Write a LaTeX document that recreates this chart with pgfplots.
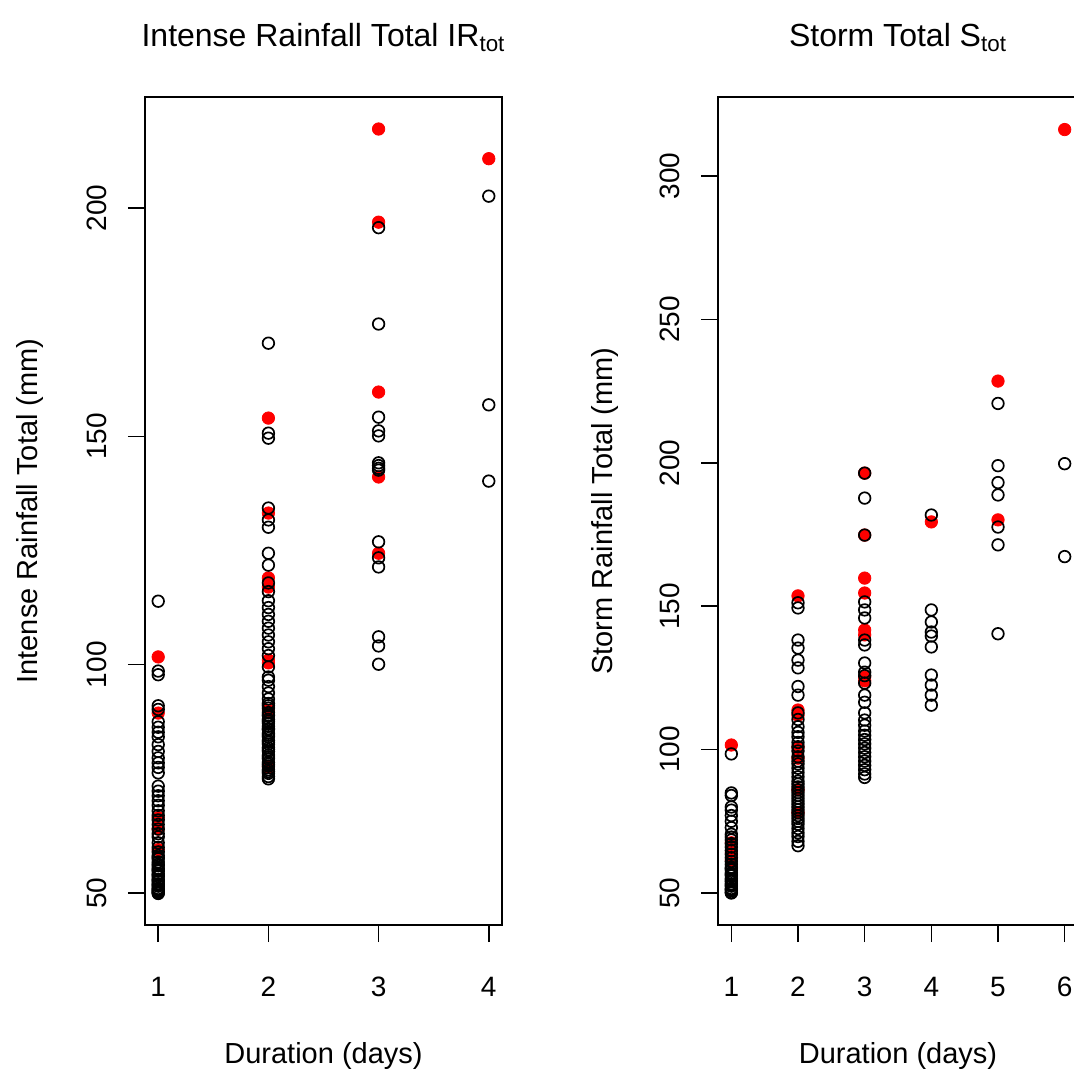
\documentclass[border=0pt]{standalone}
\usepackage{fontspec}
\setmainfont{Liberation Sans}
\usepackage{pgfplots}
\pgfplotsset{compat=1.18}
\definecolor{rred}{rgb}{1,0,0}
\pgfplotsset{rstyle/.style={
  scale only axis,
  axis line style={line width=0.75pt},
  tick align=outside, major tick length=8.5pt,
  every tick/.style={line width=0.75pt, black},
  xtick pos=bottom, ytick pos=left,
  /pgf/number format/assume math mode=true,
  scaled ticks=false,
  tick label style={font=\fontsize{14}{16}\selectfont, inner sep=0pt},
  xticklabel style={anchor=base, yshift=-27pt},
  yticklabel style={xshift=-11pt, rotate=90, anchor=base},
  label style={font=\fontsize{14.5}{17}\selectfont},
  title style={font=\fontsize{16}{19}\selectfont, anchor=base, inner sep=0pt},
  xlabel style={at={(axis description cs:0.5,-0.1667)}, anchor=base, inner sep=0pt},
  ylabel style={anchor=base, inner sep=0pt},
  openpt/.style={only marks, mark=o, mark size=2.9pt, mark options={line width=0.85pt, draw=black}},
  redpt/.style={only marks, mark=*, mark size=3.1pt, mark options={fill=rred, draw=rred}},
}}
\begin{document}
\begin{tikzpicture}
\begin{axis}[rstyle,
  at={(72.5pt,-462.5pt)}, anchor=south west,
  width=178.5pt, height=414pt,
  xmin=0.88, xmax=4.12, ymin=42.99, ymax=224.31,
  xtick={1,2,3,4}, ytick={50,100,150,200},
  title={Intense Rainfall Total IR\textsubscript{tot}},
  title style={at={(axis description cs:0.5,1.047)}},
  xlabel={Duration (days)},
  ylabel={Intense Rainfall Total (mm)},
  ylabel style={at={(axis description cs:-0.3025,0.5)}},
]
\addplot[redpt] coordinates {
(1,101.7) (1,89.4) (1,66.5) (1,64.0) (1,59.5)
(2,154.0) (2,133.2) (2,119.0) (2,117.0) (2,101.0) (2,100.4) (2,77.6) (2,90.0)
(3,217.3) (3,196.9) (3,159.7) (3,141.1) (3,124.4)
(4,210.8)
};
\addplot[openpt] coordinates {
(1,113.9) (1,98.6) (1,97.8) (1,91.0) (1,90.2) (1,87.5) (1,86.3) (1,85.2) (1,84.2) (1,82.5)
(1,81.0) (1,79.6) (1,78.5) (1,77.5) (1,76.3) (1,73.4) (1,72.3) (1,71.3) (1,70.2) (1,69.2)
(1,68.0) (1,67.0) (1,66.0) (1,65.0) (1,64.0) (1,63.0) (1,62.3) (1,61.0) (1,60.0) (1,59.0)
(1,58.2) (1,57.5) (1,56.8) (1,56.0) (1,55.4) (1,54.8) (1,54.2) (1,53.6) (1,53.0) (1,52.5)
(1,52.0) (1,51.5) (1,51.0) (1,50.6) (1,50.2) (1,49.9)
(1,57.8) (1,56.3) (1,55.1) (1,53.9) (1,52.8) (1,51.8) (1,50.9) (1,50.4) (1,50.0)
(2,170.4) (2,150.7) (2,149.6) (2,134.3) (2,131.7) (2,130.1) (2,124.4) (2,121.8) (2,117.9) (2,116.0)
(2,114.0) (2,112.5) (2,111.0) (2,109.5) (2,108.0) (2,106.5) (2,105.0) (2,103.5) (2,102.0) (2,99.5)
(2,97.3) (2,96.6) (2,95.2) (2,93.8) (2,92.5) (2,91.5) (2,90.5) (2,89.5) (2,88.8) (2,88.0)
(2,87.2) (2,86.5) (2,85.8) (2,85.0) (2,84.2) (2,83.4) (2,82.6) (2,81.8) (2,81.0) (2,80.2)
(2,79.4) (2,78.6) (2,77.8) (2,77.0) (2,76.2) (2,75.5) (2,75.0)
(2,91.0) (2,89.0) (2,87.6) (2,86.0) (2,84.6) (2,83.0) (2,81.4) (2,79.8) (2,78.2) (2,76.6)
(3,195.7) (3,174.6) (3,154.2) (3,151.2) (3,150.1) (3,144.2) (3,143.6) (3,143.0) (3,142.6) (3,126.9)
(3,123.4) (3,121.4) (3,106.1) (3,104.1) (3,100.1)
(4,202.6) (4,156.9) (4,140.2)
};
\end{axis}
\begin{axis}[rstyle,
  at={(359pt,-462.5pt)}, anchor=south west,
  width=180pt, height=414pt,
  xmin=0.8, xmax=6.2, ymin=38.84, ymax=327.55,
  xtick={1,2,3,4,5,6}, ytick={50,100,150,200,250,300},
  title={Storm Total S\textsubscript{tot}},
  title style={at={(axis description cs:0.5,1.047)}},
  xlabel={Duration (days)},
  ylabel={Storm Rainfall Total (mm)},
  ylabel style={at={(axis description cs:-0.294,0.5)}},
]
\addplot[redpt] coordinates {
(1,101.6) (1,67.5) (1,64.0) (1,61.5)
(2,153.6) (2,113.8) (2,112.0) (2,100.9) (2,97.0) (2,86.0) (2,78.0)
(3,196.4) (3,174.8) (3,159.8) (3,154.6) (3,141.7) (3,140.0) (3,125.3) (3,124.0)
(4,179.4)
(5,228.5) (5,180.1)
(6,316.2)
};
\addplot[openpt] coordinates {
(1,98.5) (1,84.9) (1,84.0) (1,80.0) (1,78.9) (1,77.0) (1,75.0) (1,72.8) (1,70.5) (1,69.5)
(1,68.5) (1,67.2) (1,66.0) (1,64.8) (1,63.5) (1,62.3) (1,61.0) (1,60.0) (1,59.0) (1,58.0)
(1,57.0) (1,56.0) (1,55.0) (1,54.0) (1,53.2) (1,52.4) (1,51.6) (1,50.8) (1,50.2) (1,50.0)
(1,58.5) (1,56.5) (1,54.5) (1,52.8) (1,51.2)
(2,151.2) (2,149.4) (2,138.2) (2,135.4) (2,131.2) (2,128.5) (2,122.0) (2,119.0) (2,112.8) (2,110.5)
(2,108.0) (2,106.0) (2,104.5) (2,102.5) (2,101.0) (2,99.5) (2,97.5) (2,96.0) (2,95.0) (2,93.5)
(2,92.0) (2,90.5) (2,89.0) (2,88.0) (2,87.0) (2,86.0) (2,85.0) (2,84.0) (2,83.0) (2,82.0)
(2,81.0) (2,80.0) (2,79.0) (2,78.0) (2,77.0) (2,76.0) (2,75.0) (2,74.0) (2,72.5) (2,71.0)
(2,69.7) (2,68.0) (2,66.5)
(3,196.4) (3,187.7) (3,174.8) (3,151.5) (3,148.7) (3,145.9) (3,138.2) (3,136.5) (3,130.2) (3,127.0)
(3,125.8) (3,123.2) (3,119.0) (3,116.5) (3,112.8) (3,110.3) (3,108.5) (3,106.5) (3,105.0) (3,103.5)
(3,102.0) (3,100.5) (3,99.0) (3,97.5) (3,96.0) (3,94.5) (3,93.0) (3,91.5) (3,90.3)
(4,181.8) (4,148.7) (4,144.5) (4,141.0) (4,139.6) (4,135.8) (4,126.0) (4,122.5) (4,119.0) (4,115.5)
(5,220.7) (5,199.0) (5,193.1) (5,188.8) (5,177.6) (5,171.4) (5,140.4)
(6,199.7) (6,167.3)
};
\end{axis}
\pgfresetboundingbox
\useasboundingbox (0pt,0pt) rectangle (537pt,-538pt);
\end{tikzpicture}
\end{document}
